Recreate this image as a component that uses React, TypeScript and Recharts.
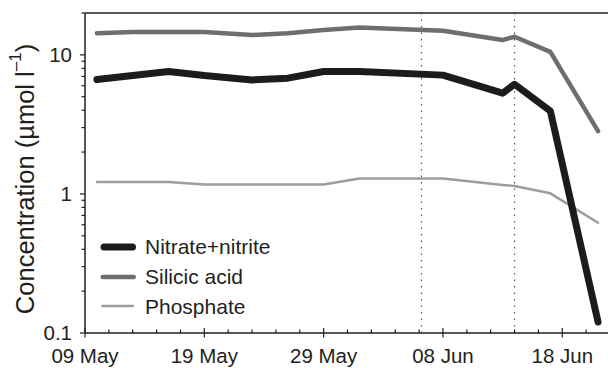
import React from "react";
import { LineChart, Line, XAxis, YAxis, ReferenceLine, Legend } from "recharts";

// sampling dates (days after 09 May)
const sampleDates = ["10 May", "13 May", "16 May", "19 May", "23 May", "26 May", "29 May", "01 Jun", "08 Jun", "13 Jun", "14 Jun", "17 Jun", "21 Jun"];
const nitrate = [6.65, 7.1, 7.6, 7.1, 6.6, 6.8, 7.6, 7.6, 7.15, 5.3, 6.15, 3.95, 0.12];
const silicic = [14.3, 14.6, 14.6, 14.6, 13.9, 14.3, 15.1, 15.7, 14.9, 12.8, 13.5, 10.5, 2.83];
const phosphate = [1.22, 1.22, 1.22, 1.17, 1.17, 1.17, 1.17, 1.29, 1.29, 1.16, 1.14, 1.01, 0.62];

const xTickDays = [0, 2, 4, 6, 8, 10, 12, 14, 16, 18, 20, 22, 24, 26, 28, 30, 32, 34, 36, 38, 40, 42];
const xTickLabels: Record<number, string> = { 0: "09 May", 10: "19 May", 20: "29 May", 30: "08 Jun", 40: "18 Jun" };
const yTicks = [0.1, 0.2, 0.3, 0.4, 0.5, 0.6, 0.7, 0.8, 0.9, 1, 2, 3, 4, 5, 6, 7, 8, 9, 10, 20];
const yTickLabels: Record<string, string> = { "0.1": "0.1", "1": "1", "10": "10" };
const eventDays = [28.2, 36];

const MONTHS: Record<string, number> = { May: 4, Jun: 5 };
const dayOffset = (s: string) => {
  const [d, m] = s.split(" ");
  return (Date.UTC(2000, MONTHS[m], Number(d)) - Date.UTC(2000, 4, 9)) / 86400000;
};

const data = sampleDates.map((d, i) => ({
  day: dayOffset(d),
  nitrate: nitrate[i],
  silicic: silicic[i],
  phosphate: phosphate[i],
}));

const INK = "#231f20";
const FONT = "Helvetica, Arial, 'Liberation Sans', sans-serif";

const series = [
  { key: "nitrate", name: "Nitrate+nitrite", color: "#1c1c1e", width: 7 },
  { key: "silicic", name: "Silicic acid", color: "#6e6e70", width: 4.5 },
  { key: "phosphate", name: "Phosphate", color: "#9d9d9d", width: 2.5 },
];

const XTick = ({ x, y, payload }: any) => {
  const v = payload.value;
  const label = xTickLabels[v];
  return (
    <g>
      <line x1={x} x2={x} y1={label ? y - 5 : y - 3.5} y2={label ? y + 4.5 : y} stroke={INK} strokeWidth={1.2} />
      {label && (
        <text x={x} y={y + 30} textAnchor="middle" fontSize={20.5} fill={INK} fontFamily={FONT}>
          {label}
        </text>
      )}
    </g>
  );
};

const YTick = ({ x, y, payload }: any) => {
  const label = yTickLabels[String(payload.value)];
  return (
    <g>
      <line x1={x - (label ? 5 : 3.5)} x2={x} y1={y} y2={y} stroke={INK} strokeWidth={1.2} />
      {label && (
        <text x={x - 13} y={y + 7} textAnchor="end" fontSize={20.5} fill={INK} fontFamily={FONT}>
          {label}
        </text>
      )}
    </g>
  );
};

const AxisTitle = () => (
  <text
    x={25}
    y={179}
    transform="rotate(-90 25 179)"
    textAnchor="middle"
    dominantBaseline="central"
    fontSize={25.5}
    fill={INK}
    fontFamily={FONT}
  >
    Concentration (µmol l
    <tspan fontSize={17} dy={-10}>–1</tspan>
    <tspan dy={10}>)</tspan>
  </text>
);

const LegendBox = () => (
  <div style={{ display: "flex", flexDirection: "column", fontFamily: FONT }}>
    {series.map((s) => (
      <div key={s.key} style={{ height: 29.7, display: "flex", alignItems: "center" }}>
        <svg width={45} height={14} style={{ display: "block" }}>
          <line
            x1={s.width > 3 ? s.width / 2 + 0.5 : 1.5}
            x2={s.width > 3 ? 36 - s.width / 2 : 34}
            y1={7}
            y2={7}
            stroke={s.color}
            strokeWidth={s.width}
            strokeLinecap={s.width > 3 ? "round" : "butt"}
          />
        </svg>
        <span style={{ fontSize: 21, color: INK, lineHeight: "21px" }}>{s.name}</span>
      </div>
    ))}
  </div>
);

export default function App() {
  return (
    <div style={{ position: "absolute", left: 0, top: 0, width: 608, height: 368, overflow: "hidden", background: "#fff" }}>
      <LineChart width={611} height={368} data={data} margin={{ top: 13, right: 1, bottom: 0, left: 0 }}>
        <XAxis
          dataKey="day"
          type="number"
          domain={[0, 44]}
          ticks={xTickDays}
          interval={0}
          allowDataOverflow
          height={35}
          tickSize={0}
          tickMargin={0}
          tickLine={false}
          axisLine={{ stroke: INK, strokeWidth: 1.5 }}
          tick={<XTick />}
        />
        <YAxis
          scale="log"
          domain={[0.1, 20]}
          ticks={yTicks}
          interval={0}
          allowDataOverflow
          width={85}
          tickSize={0}
          tickMargin={0}
          tickLine={false}
          axisLine={{ stroke: INK, strokeWidth: 1.5 }}
          tick={<YTick />}
          label={{ content: () => <AxisTitle /> }}
        />
        <ReferenceLine y={20} stroke={INK} strokeWidth={1.5} />
        {eventDays.map((d) => (
          <ReferenceLine key={d} x={d} stroke="#555" strokeWidth={1.2} strokeDasharray="1.5 5" />
        ))}
        <Legend
          layout="horizontal"
          align="center"
          verticalAlign="middle"
          wrapperStyle={{ left: 100, top: 232, width: 220 }}
          content={() => <LegendBox />}
        />
        {series
          .slice()
          .reverse()
          .map((s) => (
            <Line
              key={s.key}
              type="linear"
              dataKey={s.key}
              name={s.name}
              stroke={s.color}
              strokeWidth={s.width}
              strokeLinejoin="round"
              strokeLinecap="round"
              dot={false}
              activeDot={false}
              isAnimationActive={false}
            />
          ))}
      </LineChart>
    </div>
  );
}
